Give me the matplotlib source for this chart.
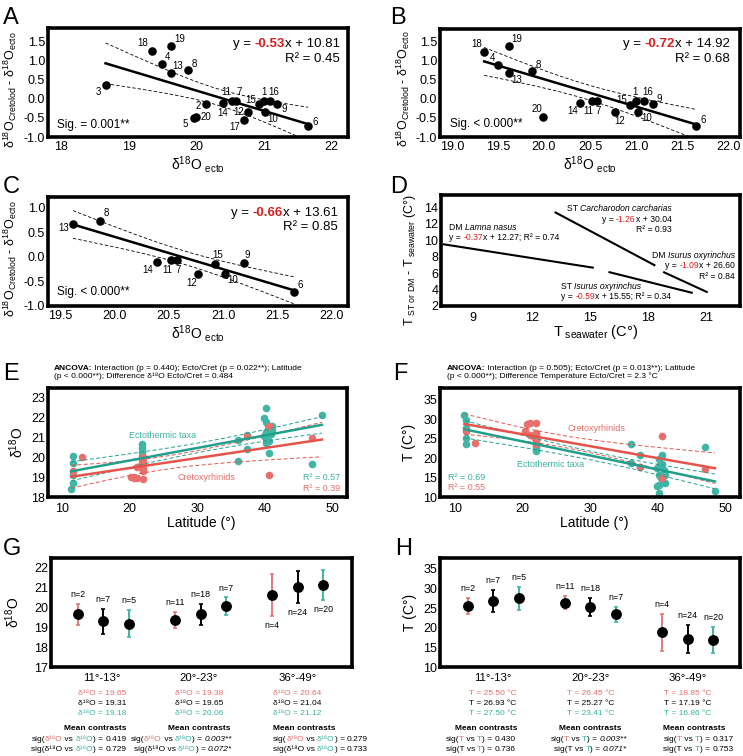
import numpy as np
import matplotlib
matplotlib.use('Agg')
import matplotlib.pyplot as plt
from matplotlib.transforms import IdentityTransform

plt.rcParams['font.family'] = ['Liberation Sans', 'DejaVu Sans']
plt.rcParams['mathtext.fontset'] = 'custom'
plt.rcParams['mathtext.rm'] = 'Liberation Sans'
plt.rcParams['mathtext.it'] = 'Liberation Sans:italic'
plt.rcParams['mathtext.bf'] = 'Liberation Sans:bold'
plt.rcParams['mathtext.sf'] = 'Liberation Sans'
plt.rcParams['mathtext.default'] = 'regular'

# ---------------- DATA ----------------
site_id = list(range(1, 21))
d18o_ecto = [21.00, 20.15, 18.66, 19.50, 19.97, 21.65, 20.58, 19.87, 21.19, 21.02,
             20.52, 20.77, 19.62, 20.39, 20.93, 21.09, 20.70, 19.35, 19.62, 19.99]
d18o_diff = [-0.06, -0.13, 0.35, 0.90, -0.50, -0.72, -0.06, 0.74, -0.13, -0.34,
             -0.06, -0.34, 0.68, -0.11, -0.15, -0.06, -0.55, 1.23, 1.38, -0.47]
ids_A = site_id
ids_B = [1, 4, 6, 7, 8, 9, 10, 11, 12, 13, 14, 15, 16, 18, 19, 20]
ids_C = [6, 7, 8, 9, 10, 11, 12, 13, 14, 15]
slope_ABC = [-0.53, -0.72, -0.66]
icpt_ABC = [10.81, 14.92, 13.61]
r2_ABC = ['0.45', '0.68', '0.85']
sig_ABC = ['Sig. = 0.001**', 'Sig. < 0.000**', 'Sig. < 0.000**']

# Panel D regressions
d_names = [('DM ', 'Lamna nasus'), ('ST ', 'Carcharodon carcharias'),
           ('DM ', 'Isurus oxyrinchus'), ('ST ', 'Isurus oxyrinchus')]
d_slope = [-0.37, -1.26, -1.09, -0.59]
d_icpt = [12.27, 30.04, 26.60, 15.55]
d_r2 = ['0.74', '0.93', '0.84', '0.34']
d_xmin = [7.49, 13.23, 18.81, 16.0]
d_xmax = [15.14, 18.31, 21.0, 20.23]

# Panels E/F: ectothermic taxa and cretoxyrhinids
ecto_lat = [11.4, 11.7, 11.7, 11.7, 11.7,
            21.9, 21.9, 21.9, 21.9, 21.9, 21.9, 21.9,
            36.0, 36.0, 37.3, 37.3, 40.2, 39.9, 40.2, 40.5, 40.6, 40.2, 41.0, 40.6,
            40.2, 40.6, 48.4, 46.9, 39.9, 40.9, 40.2, 41.0]
ecto_d18o = [18.40, 18.70, 19.11, 19.74, 20.05,
             20.65, 20.45, 20.25, 20.05, 19.85, 19.65, 19.50,
             20.90, 19.80, 21.13, 20.43, 22.50, 22.00, 21.79, 21.59, 21.43, 21.26, 21.38, 20.81,
             20.93, 20.24, 22.12, 19.64, 21.10, 21.20, 20.70, 21.60]
ecto_T = [31.0, 29.8, 27.8, 25.2, 23.7,
          21.9, 22.2, 22.6, 23.2, 23.8, 24.6, 25.6,
          18.8, 23.5, 17.7, 20.7, 11.0, 12.7, 13.0, 14.8, 15.0, 15.6, 15.6, 18.6,
          18.0, 20.9, 11.6, 22.96, 17.5, 16.9, 19.8, 13.5]
cret_lat = [11.7, 13.0, 20.3, 21.1, 22.0, 21.1, 21.6, 22.0, 22.0, 22.0, 22.0, 20.6, 22.0,
            37.3, 40.6, 40.6, 46.9]
cret_d18o = [19.30, 20.00, 18.99, 18.94, 18.90, 19.52, 19.57, 19.40, 19.30, 19.85, 20.02, 18.98, 19.70,
             21.06, 21.59, 19.11, 20.96]
cret_T = [27.0, 24.0, 27.0, 28.9, 29.0, 25.9, 25.5, 26.2, 26.4, 24.6, 23.7, 28.8, 24.9,
          17.6, 15.0, 25.7, 17.1]

# Panels G/H: group means
groups = ['11°-13°', '20°-23°', '36°-49°']
n_cret = [2, 11, 4]
n_all = [7, 18, 24]
n_ecto = [5, 7, 20]
G_mean_cret = [19.65, 19.38, 20.64]
G_err_cret = [0.53, 0.39, 1.07]
G_mean_all = [19.31, 19.65, 21.04]
G_err_all = [0.64, 0.53, 0.80]
G_mean_ecto = [19.18, 20.06, 21.12]
G_err_ecto = [0.68, 0.45, 0.75]
H_mean_cret = [25.50, 26.45, 18.85]
H_err_cret = [2.1, 1.7, 4.7]
H_mean_all = [26.93, 25.27, 17.19]
H_err_all = [2.8, 2.3, 3.6]
H_mean_ecto = [27.50, 23.41, 16.86]
H_err_ecto = [3.0, 1.9, 3.4]
G_sig1 = ['0.419', '0.003**', '0.279']
G_sig2 = ['0.729', '0.072*', '0.733']
H_sig1 = ['0.430', '0.003**', '0.317']
H_sig2 = ['0.736', '0.071*', '0.753']

# ---------------- STYLE ----------------
W, H = 743, 756
fig = plt.figure(figsize=(W / 100, H / 100), dpi=100)
RED_PT = '#e8706c'
TEAL_PT = '#3fb5a5'
RED_LN = '#e5534b'
TEAL_LN = '#22a08e'
RED_TXT = '#e56f6a'
TEAL_TXT = '#3ab3a2'
RED_ERR = '#e07c7c'
EQ_RED = '#d81e1e'
T975 = {8: 2.306, 14: 2.145, 15: 2.131, 18: 2.101, 30: 2.042}

# label offsets (pixels, dx right, dy up)
off_A = {1: (0, 9), 2: (-8, -2), 3: (-7, -7), 4: (5, 7), 5: (-9, -6), 6: (7, 4), 7: (4, 9),
         8: (7, 6), 9: (7, -5), 10: (7, -7), 11: (-5, 9), 12: (-10, 0), 13: (7, 7), 14: (0, -10),
         15: (-9, 4), 16: (4, 9), 17: (-9, -7), 18: (-10, 8), 19: (9, 7), 20: (10, 0)}
off_B = {18: (-7, 8), 19: (8, 7), 4: (-5, 7), 8: (6, 6), 13: (8, -7), 20: (-6, 8), 14: (-7, -8),
         11: (-4, -10), 7: (1, -10), 12: (5, -9), 15: (-8, 5), 1: (-1, 9), 16: (3, 9), 9: (6, 5),
         10: (9, -6), 6: (7, 6)}
off_C = {13: (-9, -4), 8: (6, 8), 14: (-9, -8), 11: (-4, -10), 7: (1, -10), 12: (-6, -9),
         15: (2, 9), 10: (8, -6), 9: (4, 8), 6: (7, 7)}


def add_ax(l, t, r, b):
    ax = fig.add_axes([l / W, 1 - b / H, (r - l) / W, (b - t) / H])
    for s in ax.spines.values():
        s.set_linewidth(2.6)
        s.set_zorder(10)
    ax.tick_params(length=0, labelsize=9, pad=3)
    return ax


def ftext(x, y, s, **kw):
    return fig.text(x / W, 1 - y / H, s, **kw)


renderer = fig.canvas.get_renderer()


def seg_width(s, kw, size):
    if '$' in s:
        t = fig.text(0, 0, s, fontsize=size, transform=IdentityTransform(), **kw)
        w = t.get_window_extent(renderer).width
        t.remove()
        return w
    t1 = fig.text(0, 0, '|' + s + '|', fontsize=size, transform=IdentityTransform(), **kw)
    t2 = fig.text(0, 0, '||', fontsize=size, transform=IdentityTransform(), **kw)
    w = t1.get_window_extent(renderer).width - t2.get_window_extent(renderer).width
    t1.remove(); t2.remove()
    return w


def mtext(x, y, parts, ha='left', size=6.3):
    """x, y: pixel coords from top-left; y is the baseline."""
    ws = []
    for p in parts:
        kw = p[1] if len(p) > 1 else {}
        ws.append(seg_width(p[0], kw, size))
    tot = sum(ws)
    cx = x - {'left': 0, 'center': 0.5, 'right': 1}[ha] * tot
    for p, w in zip(parts, ws):
        kw = p[1] if len(p) > 1 else {}
        fig.text(cx, H - y, p[0], fontsize=size, ha='left', va='baseline',
                 transform=IdentityTransform(), **kw)
        cx += w


def band(xd, yd, slope, icpt, xs, tval):
    xd = np.asarray(xd); yd = np.asarray(yd)
    n = len(xd)
    res = yd - (slope * xd + icpt)
    s = np.sqrt(np.sum(res ** 2) / (n - 2))
    xm = xd.mean(); sxx = np.sum((xd - xm) ** 2)
    se = s * np.sqrt(1 / n + (xs - xm) ** 2 / sxx)
    yh = slope * xs + icpt
    return yh, yh - tval * se, yh + tval * se


# ---------------- PANELS A-C ----------------
boxes_ABC = [(48, 28, 348, 137), (440, 29, 740, 137), (48, 197, 348, 306)]
xlims = [(17.81, 22.24), (18.87, 22.13), (19.39, 22.15)]
ylims = [(-1.0, 1.84), (-1.0, 1.84), (-1.0, 1.22)]
xticks = [np.arange(18, 23, 1), np.arange(19, 22.01, 0.5), np.arange(19.5, 22.01, 0.5)]
yticks = [np.arange(-1, 1.51, 0.5), np.arange(-1, 1.51, 0.5), np.arange(-1, 1.01, 0.5)]
xfmts = ['%d', '%.1f', '%.1f']
idsets = [ids_A, ids_B, ids_C]
offsets = [off_A, off_B, off_C]
eq_pos = [(340, 47.4, 62.0, 56.7, 128.2), (730, 47.0, 62.0, 450, 127.5),
          (337.7, 215.7, 229.7, 56.7, 295.0)]
ylab_x = [10, 403, 10]
ylab_y = [90, 89, 259]

for i in range(3):
    l, t, r, b = boxes_ABC[i]
    ax = add_ax(l, t, r, b)
    ids = idsets[i]
    xd = [d18o_ecto[k - 1] for k in ids]
    yd = [d18o_diff[k - 1] for k in ids]
    ax.scatter(xd, yd, s=38, color='black', zorder=4, linewidths=0)
    for k, xx, yy in zip(ids, xd, yd):
        dx, dy = offsets[i][k]
        ax.annotate(str(k), (xx, yy), xytext=(dx * 0.72, dy * 0.72), textcoords='offset points',
                    ha='center', va='center', fontsize=7)
    xs = np.linspace(min(xd), max(xd), 100)
    yh, lo, hi = band(xd, yd, slope_ABC[i], icpt_ABC[i], xs, T975[len(xd) - 2])
    ax.plot(xs, yh, color='black', lw=1.8, zorder=3)
    ax.plot(xs, lo, color='black', lw=0.6, ls=(0, (4, 2.5)), zorder=2)
    ax.plot(xs, hi, color='black', lw=0.6, ls=(0, (4, 2.5)), zorder=2)
    ax.set_xlim(*xlims[i]); ax.set_ylim(*ylims[i])
    ax.set_xticks(xticks[i]); ax.set_yticks(yticks[i])
    ax.set_xticklabels([xfmts[i] % v for v in xticks[i]])
    ax.set_yticklabels(['%.1f' % v for v in yticks[i]])
    ax.tick_params(axis='y', pad=2)
    ax.tick_params(axis='x', pad=3)
    ex, eb, rb, sx, sb = eq_pos[i]
    mtext(ex, eb, [('y = ',), ('%.2f' % slope_ABC[i], {'color': EQ_RED, 'weight': 'bold'}),
                   ('x + %.2f' % icpt_ABC[i],)], ha='right', size=9.5)
    mtext(ex, rb, [('R² = ' + r2_ABC[i],)], ha='right', size=9.5)
    mtext(sx, sb, [(sig_ABC[i],)], ha='left', size=8.5)
    ftext(ylab_x[i], ylab_y[i],
          r'δ$^{18}$O$_{\mathrm{Cretolod}}$ - δ$^{18}$O$_{\mathrm{ecto}}$',
          rotation=90, ha='center', va='center', fontsize=9)
    ftext((l + r) / 2, b + 27.5, r'δ$^{18}$O$\ _{\mathrm{ecto}}$', ha='center', va='center',
          fontsize=10)

# ---------------- PANEL D ----------------
ax = add_ax(441, 195, 740, 306)
for k in range(4):
    xs = np.linspace(d_xmin[k], d_xmax[k], 2)
    ax.plot(xs, d_slope[k] * xs + d_icpt[k], color='black', lw=1.5)
ax.set_xlim(7.34, 22.71); ax.set_ylim(2, 15.5)
ax.set_xticks([9, 12, 15, 18, 21]); ax.set_yticks(np.arange(2, 15, 2))
ax.tick_params(axis='y', pad=2); ax.tick_params(axis='x', pad=4)
ds = 6.2
it = {'style': 'italic'}
red = {'color': EQ_RED}
mtext(449, 229.8, [(d_names[0][0],), (d_names[0][1], it)], size=ds)
mtext(449, 239.8, [('y = ',), ('%.2f' % d_slope[0], red),
                   ('x + %.2f; R² = %s' % (d_icpt[0], d_r2[0]),)], size=ds)
mtext(671.7, 211.4, [(d_names[1][0],), (d_names[1][1], it)], ha='right', size=ds)
mtext(671.7, 222.1, [('y = ',), ('%.2f' % d_slope[1], red), ('x + %.2f' % d_icpt[1],)],
      ha='right', size=ds)
mtext(671.7, 232.1, [('R² = ' + d_r2[1],)], ha='right', size=ds)
mtext(735, 258.1, [(d_names[2][0],), (d_names[2][1], it)], ha='right', size=ds)
mtext(735, 268.1, [('y = ',), ('%.2f' % d_slope[2], red), ('x + %.2f' % d_icpt[2],)],
      ha='right', size=ds)
mtext(735, 278.8, [('R² = ' + d_r2[2],)], ha='right', size=ds)
mtext(561, 288.8, [(d_names[3][0],), (d_names[3][1], it)], size=ds)
mtext(561, 299.1, [('y = ',), ('%.2f' % d_slope[3], red),
                   ('x + %.2f; R² = %s' % (d_icpt[3], d_r2[3]),)], size=ds)
ftext(410, 260, r'T$_{\mathrm{\ ST\ or\ DM}}$ - T$_{\mathrm{\ seawater}}$ (C°)', rotation=90,
      ha='center', va='center', fontsize=9)
ftext(596, 332, r'T$_{\mathrm{\ seawater}}$ (C°)', ha='center', va='center', fontsize=10.5)

# ---------------- PANELS E/F ----------------
def latpanel(box, ycol_e, ycol_c, xlim, ylim, yticks, ylabel, ylab_x):
    l, t, r, b = box
    ax = add_ax(l, t, r, b)
    ax.scatter(ecto_lat, ycol_e, s=30, color=TEAL_PT, linewidths=0, zorder=2)
    ax.scatter(cret_lat, ycol_c, s=30, color=RED_PT, linewidths=0, zorder=3)
    allx = ecto_lat + cret_lat
    xs = np.linspace(min(allx), max(allx), 100)
    for xd, yd, cl in [(ecto_lat, ycol_e, TEAL_LN), (cret_lat, ycol_c, RED_LN)]:
        sl, ic = np.polyfit(xd, yd, 1)
        yh, lo, hi = band(xd, yd, sl, ic, xs, T975[len(xd) - 2])
        ax.plot(xs, yh, color=cl, lw=1.8, zorder=5)
        ax.plot(xs, lo, color=cl, lw=0.7, ls=(0, (4, 2.5)), zorder=4)
        ax.plot(xs, hi, color=cl, lw=0.7, ls=(0, (4, 2.5)), zorder=4)
    ax.set_xlim(*xlim); ax.set_ylim(*ylim)
    ax.set_xticks([10, 20, 30, 40, 50]); ax.set_yticks(yticks)
    ax.tick_params(axis='y', pad=2); ax.tick_params(axis='x', pad=4)
    ftext(ylab_x, (t + b) / 2, ylabel, rotation=90, ha='center', va='center', fontsize=10)
    ftext((l + r) / 2 + 4, b + 26, 'Latitude (°)', ha='center', va='center', fontsize=10)
    return ax

latpanel((48, 388, 347, 497), ecto_d18o, cret_d18o, (7.98, 52.1), (18, 23.5),
         np.arange(18, 24, 1), r'δ$^{18}$O', 17)
latpanel((440, 388, 740, 497), ecto_T, cret_T, (7.79, 52.1), (10, 38),
         np.arange(10, 36, 5), 'T (C°)', 409)
hs = 6.0
mtext(54, 369.7, [('ANCOVA:', {'weight': 'bold'}),
                  (' Interaction (p = 0.440); Ecto/Cret (p = 0.022**); Latitude',)], size=hs)
mtext(54, 378.5, [('(p < 0.000**); Difference δ¹⁸O Ecto/Cret = 0.484',)], size=hs)
mtext(446.7, 369.7, [('ANCOVA:', {'weight': 'bold'}),
                     (' Interaction (p = 0.505); Ecto/Cret (p = 0.013**); Latitude',)], size=hs)
mtext(446.7, 378.5, [('(p < 0.000**); Difference Temperature Ecto/Cret = 2.3 °C',)], size=hs)
ls_ = 6.5
ftext(163, 438, 'Ectothermic taxa', color=TEAL_TXT, ha='center', va='baseline', fontsize=ls_)
ftext(206, 480, 'Cretoxyrhinids', color=RED_TXT, ha='center', va='baseline', fontsize=ls_)
ftext(340, 480, 'R² = 0.57', color=TEAL_TXT, ha='right', va='baseline', fontsize=ls_)
ftext(340, 491.3, 'R² = 0.39', color=RED_TXT, ha='right', va='baseline', fontsize=ls_)
ftext(596, 430.7, 'Cretoxyrhinids', color=RED_TXT, ha='center', va='baseline', fontsize=ls_)
ftext(551, 467.3, 'Ectothermic taxa', color=TEAL_TXT, ha='center', va='baseline', fontsize=ls_)
ftext(447.7, 479.7, 'R² = 0.69', color=TEAL_TXT, ha='left', va='baseline', fontsize=ls_)
ftext(447.7, 490.3, 'R² = 0.55', color=RED_TXT, ha='left', va='baseline', fontsize=ls_)

# ---------------- PANELS G/H ----------------
def grouppanel(box, xlim, ylim, yticks, means, errs, below, ylabel, ylab_x):
    l, t, r, b = box
    ax = add_ax(l, t, r, b)
    offs = [-0.263, 0.0, 0.263]
    cols = [RED_ERR, 'black', TEAL_PT]
    ns = [n_cret, n_all, n_ecto]
    for k in range(3):
        xs = np.arange(3) + offs[k]
        ax.errorbar(xs, means[k], yerr=errs[k], fmt='none', ecolor=cols[k], elinewidth=1.4,
                    capsize=1.5, capthick=1.2, zorder=2)
        ax.plot(xs, means[k], 'o', color='black', ms=6.8, zorder=3)
        for g in range(3):
            if below[g]:
                ax.annotate('n=%d' % ns[k][g], (xs[g], means[k][g] - errs[k][g]), xytext=(0, -3.5),
                            textcoords='offset points', ha='center', va='top', fontsize=6.4)
            else:
                ax.annotate('n=%d' % ns[k][g], (xs[g], means[k][g] + errs[k][g]), xytext=(0, 3.5),
                            textcoords='offset points', ha='center', va='bottom', fontsize=6.4)
    ax.set_xlim(*xlim); ax.set_ylim(*ylim)
    ax.set_xticks([]); ax.set_yticks(yticks)
    ax.tick_params(axis='y', pad=2)
    ftext(ylab_x, (t + b) / 2, ylabel, rotation=90, ha='center', va='center', fontsize=10)
    return ax

grouppanel((51, 558, 352, 667), (-0.54, 2.56), (17, 22.5), np.arange(17, 23, 1),
           [G_mean_cret, G_mean_all, G_mean_ecto], [G_err_cret, G_err_all, G_err_ecto],
           [False, False, True], r'δ$^{18}$O', 13)
grouppanel((440, 558, 740, 667), (-0.55, 2.54), (10, 37.8), np.arange(10, 36, 5),
           [H_mean_cret, H_mean_all, H_mean_ecto], [H_err_cret, H_err_all, H_err_ecto],
           [False, False, False], 'T (C°)', 410)

# text blocks below G and H
D18 = 'δ¹⁸O'
gx_G = [101.7, 198.8, 297.3]
gx_H = [492.5, 590.4, 687.5]
mc_G = [(126.7, 'right'), (231.0, 'right'), (272.7, 'left')]
sg_G = [(126.7, 'right'), (232.0, 'right'), (272.7, 'left')]
mc_H = [(517.7, 'right'), (590.5, 'center'), (663.3, 'left')]
sg_H = [(515.7, 'right'), (627.0, 'right'), (663.3, 'left')]
vs = 6.0
for g in range(3):
    italic = {'style': 'italic'} if g == 1 else {}
    # G
    ftext(gx_G[g], 681, groups[g], ha='center', va='baseline', fontsize=8.2)
    mtext(gx_G[g], 694.8, [(D18 + ' = %.2f' % G_mean_cret[g], {'color': RED_TXT})], ha='center', size=vs)
    mtext(gx_G[g], 705.0, [(D18 + ' = %.2f' % G_mean_all[g],)], ha='center', size=vs)
    mtext(gx_G[g], 715.4, [(D18 + ' = %.2f' % G_mean_ecto[g], {'color': TEAL_TXT})], ha='center', size=vs)
    mtext(mc_G[g][0], 730.4, [('Mean contrasts', {'weight': 'bold'})], ha=mc_G[g][1], size=6.0)
    mtext(sg_G[g][0], 740.8, [('sig(',), (D18, {'color': RED_TXT}), (' vs ',),
                              (D18, {'color': TEAL_TXT}), (') = ',), (G_sig1[g], italic)],
          ha=sg_G[g][1], size=vs)
    mtext(sg_G[g][0], 751.4, [('sig(' + D18 + ' vs ',),
                              (D18, {'color': TEAL_TXT}), (') = ',), (G_sig2[g], italic)],
          ha=sg_G[g][1], size=vs)
    # H
    ftext(gx_H[g], 681, groups[g], ha='center', va='baseline', fontsize=8.2)
    mtext(gx_H[g], 694.8, [('T = %.2f °C' % H_mean_cret[g], {'color': RED_TXT})], ha='center', size=vs)
    mtext(gx_H[g], 705.0, [('T = %.2f °C' % H_mean_all[g],)], ha='center', size=vs)
    mtext(gx_H[g], 715.4, [('T = %.2f °C' % H_mean_ecto[g], {'color': TEAL_TXT})], ha='center', size=vs)
    mtext(mc_H[g][0], 730.4, [('Mean contrasts', {'weight': 'bold'})], ha=mc_H[g][1], size=6.0)
    mtext(sg_H[g][0], 740.8, [('sig(',), ('T', {'color': RED_TXT}), (' vs ',),
                              ('T', {'color': TEAL_TXT}), (') = ',), (H_sig1[g], italic)],
          ha=sg_H[g][1], size=vs)
    mtext(sg_H[g][0], 751.4, [('sig(T vs ',), ('T', {'color': TEAL_TXT}), (') = ',),
                              (H_sig2[g], italic)], ha=sg_H[g][1], size=vs)

# ---------------- PANEL LETTERS ----------------
for letter, x, y in [('A', 3, 24), ('B', 390.5, 24), ('C', 3, 193.3), ('D', 390, 193.3),
                     ('E', 3, 380), ('F', 393, 380), ('G', 3, 555), ('H', 395, 555)]:
    ftext(x, y, letter, ha='left', va='baseline', fontsize=17)

fig.savefig('out.png', dpi=100)
